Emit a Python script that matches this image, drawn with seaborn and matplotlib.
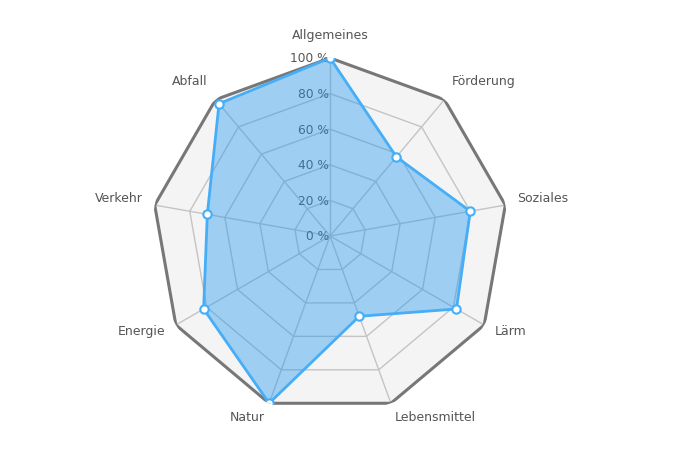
import numpy as np
import matplotlib
matplotlib.use("Agg")
import matplotlib.pyplot as plt
import seaborn as sns

# Data
categories = ["Allgemeines", "Förderung", "Soziales", "Lärm", "Lebensmittel",
              "Natur", "Energie", "Verkehr", "Abfall"]
values = [100, 58, 80, 82, 48, 100, 82, 70, 97]
levels = [20, 40, 60, 80, 100]
level_labels = ["0 %", "20 %", "40 %", "60 %", "80 %", "100 %"]

sns.set_style("white")
plt.rcParams["font.family"] = ["DejaVu Sans"]

fig = plt.figure(figsize=(6.9, 4.6), dpi=100)
ax = fig.add_axes([0.2203, 0.0978, 0.516, 0.774], projection="polar")
ax.set_theta_offset(np.pi / 2)
ax.set_theta_direction(-1)
ax.set_ylim(0, 100)
ax.grid(False)
ax.spines["polar"].set_visible(False)
ax.set_xticks([])
ax.set_yticks([])
ax.set_facecolor("none")

n = len(categories)
angles = np.linspace(0, 2 * np.pi, n, endpoint=False)
closed = np.concatenate([angles, angles[:1]])

# background polygon
ax.fill(closed, [100] * (n + 1), color="#f4f4f4", zorder=0)

# grid polygons + spokes
for lv in levels[:-1]:
    ax.plot(closed, [lv] * (n + 1), color="#c4c4c4", lw=1, zorder=1)
for a in angles:
    ax.plot([a, a], [0, 100], color="#c4c4c4", lw=1, zorder=1)
ax.plot(closed, [100] * (n + 1), color="#777777", lw=2.2, zorder=1)

# radial tick labels
for i, lab in enumerate(level_labels):
    r = i * 20
    ax.annotate(lab, xy=(0, r), xytext=(-1, 0), textcoords="offset pixels",
                ha="right", va="center", fontsize=8.8, color="#555555", zorder=2)

# series
vals = values + values[:1]
ax.fill(closed, vals, color="#2196F3", alpha=0.4, zorder=3, lw=0)
ax.plot(closed, vals, color="#45aef7", lw=2, zorder=4)
ax.plot(angles, values, linestyle="none", marker="o", ms=6,
        markerfacecolor="white", markeredgecolor="#45aef7", mew=1.5, zorder=5)

# category labels
for a, lab in zip(angles, categories):
    s = np.sin(a)
    c = np.cos(a)
    if abs(s) < 0.1:
        ha = "center"
    elif s > 0:
        ha = "left"
    else:
        ha = "right"
    ax.annotate(lab, xy=(a, 100), xytext=(12 * s, 19.3 * c + 4.6),
                textcoords="offset pixels", ha=ha, va="center",
                fontsize=9, color="#555555")

fig.savefig("out.png", dpi=100)
